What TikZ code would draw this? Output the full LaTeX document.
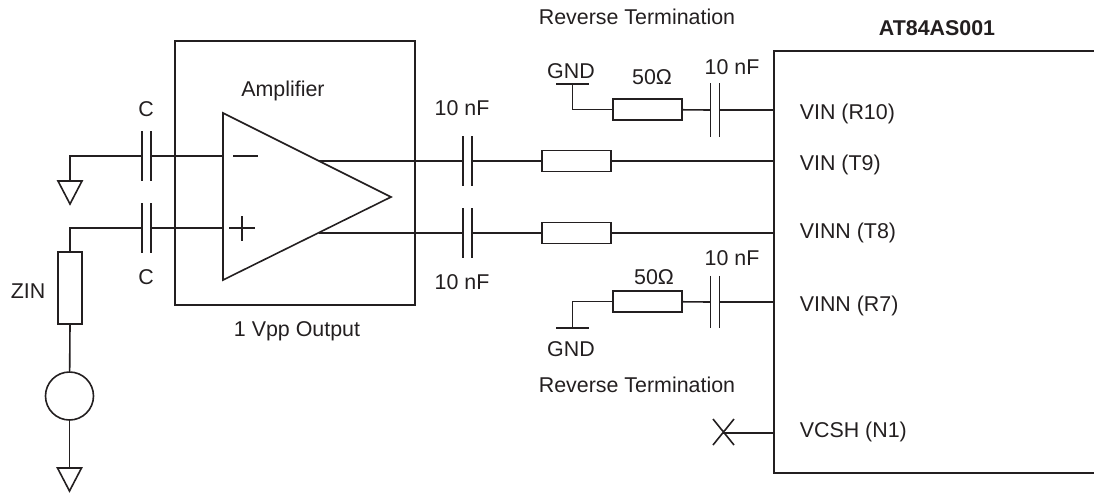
\documentclass[tikz,border=0pt]{standalone}
\usepackage{fontspec}
\setmainfont{Liberation Sans}
\definecolor{ink}{HTML}{231F20}
\begin{document}
\begin{tikzpicture}[x=.5pt,y=-.5pt,line width=.8pt,color=ink,
res/.style={draw,rectangle,inner sep=0pt,minimum width=34.5pt,minimum height=10.5pt},
lbl/.style={inner sep=0pt,font=\fontsize{10.7}{12}\selectfont},
cap/.pic={
\draw(-4.5,-25)--(-4.5,25) (4.5,-25)--(4.5,25);
\coordinate(-l)at(-4.5,0);
\coordinate(-r)at(4.5,0);
},
earth/.pic={
\draw(-12,0)--(12,0)--(0,23)--cycle;
\coordinate(-t)at(0,0);
},
bar/.pic={
\draw(-16.5,0)--(16.5,0);
\coordinate(-m)at(0,0);
}]
\useasboundingbox(0,0)rectangle(1094,494);
% amplifier
\draw(175,41)rectangle(415,305);
\coordinate(ampa)at(223,113);
\coordinate(ampb)at(223,280);
\coordinate(ampc)at(391,197);
\draw(ampa)--(ampc)--(ampb)--cycle;
\draw(233,156)--(258,156);
\draw(229,228)--(255,228) (242,216)--(242,241);
\node[lbl](amplbl)at(283,91){Amplifier};
\node[lbl](outlbl)at(297,331){1 Vpp Output};
% input side
\draw(70,181)pic(gnda){earth};
\draw(146.5,156)pic(ca){cap};
\draw(146.5,228)pic(cb){cap};
\node[lbl](calbl)at(146,109){C};
\node[lbl](cblbl)at(146,277){C};
\coordinate(ina)at(223,156);
\coordinate(inb)at(223,228);
\draw(gnda-t)|-(ca-l);
\draw(ca-r)--(ina);
\draw(cb-r)--(inb);
\node[res,minimum width=12pt,minimum height=36pt](zin)at(70,288){};
\node[lbl](zinlbl)at(28,291){ZIN};
\draw(zin.north)|-(cb-l);
\node[draw,circle,inner sep=0pt,minimum size=24pt](src)at(69.5,396){};
\draw(zin.south)--(src);
\draw(69.5,468)pic(gndb){earth};
\draw(src)--(gndb-t);
% outputs
\coordinate(outa)at(319,161);
\coordinate(outb)at(319,233);
\draw(467.5,161)pic(cc){cap};
\draw(467.5,233)pic(cd){cap};
\node[lbl](cclbl)at(462,108){10 nF};
\node[lbl](cdlbl)at(462,282){10 nF};
\node[res](ra)at(576.5,161){};
\node[res](rb)at(576.5,233){};
% chip
\draw(1094,51)--(774,51)--(774,473)--(1094,473);
\node[lbl,font=\fontsize{10.7}{12}\selectfont\bfseries](chiplbl)at(937,28){AT84AS001};
\coordinate(pina)at(774,110);
\coordinate(pinb)at(774,161);
\coordinate(pinc)at(774,233);
\coordinate(pind)at(774,302);
\coordinate(pine)at(774,433);
\node[lbl,anchor=west](pinalbl)at(799,113.5){VIN (R10)};
\node[lbl,anchor=west](pinblbl)at(799,165){VIN (T9)};
\node[lbl,anchor=west](pinclbl)at(799,232.5){VINN (T8)};
\node[lbl,anchor=west](pindlbl)at(799,306){VINN (R7)};
\node[lbl,anchor=west](pinelbl)at(799,432){VCSH (N1)};
\draw(outa)--(cc-l) (cc-r)--(ra)--(pinb);
\draw(outb)--(cd-l) (cd-r)--(rb)--(pinc);
% upper termination
\node[lbl](reva)at(637,17){Reverse Termination};
\draw(572.5,84)pic(gndc){bar};
\node[lbl](gndclbl)at(571,71){GND};
\node[res](rc)at(647.5,109.5){};
\node[lbl](rclbl)at(652,77){50Ω};
\draw(715,110)pic[yscale=1.07](ce){cap};
\node[lbl](celbl)at(732,67){10 nF};
\draw(gndc-m)|-(rc);
\draw(rc)--(ce-l);
\draw(ce-r)--(pina);
% lower termination
\node[lbl](revb)at(637,385){Reverse Termination};
\draw(572.5,328)pic(gndd){bar};
\node[lbl](gnddlbl)at(571,349){GND};
\node[res](rd)at(647.5,301.5){};
\node[lbl](rdlbl)at(654,277){50Ω};
\draw(715,302)pic[yscale=1.05](cf){cap};
\node[lbl](cflbl)at(732,258){10 nF};
\draw(gndd-m)|-(rd);
\draw(rd)--(cf-l);
\draw(cf-r)--(pind);
% no connect
\coordinate(nc)at(723,433);
\draw(713,419)--(734,445) (713,445)--(734,419);
\draw(nc)--(pine);
\end{tikzpicture}
\end{document}
